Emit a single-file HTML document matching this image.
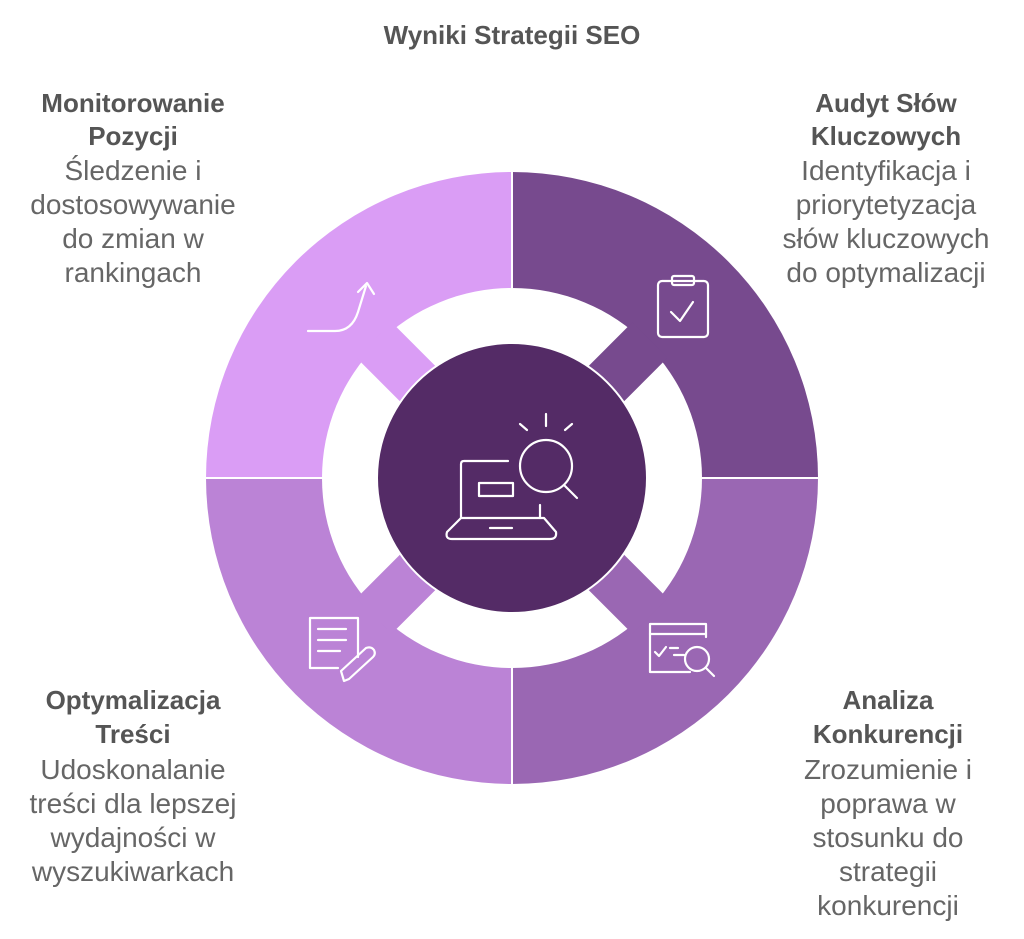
<!DOCTYPE html>
<html><head><meta charset="utf-8"><style>
html,body{margin:0;padding:0;background:#fff;width:1024px;height:939px;overflow:hidden}
svg{display:block}
text{font-family:"Liberation Sans",sans-serif;font-size:28px}
.b{font-weight:bold;fill:#555;font-size:26px}
.d{fill:#666}
</style></head><body>
<svg width="1024" height="939" viewBox="0 0 1024 939">
<text x="512" y="44" text-anchor="middle" class="b" style="font-size:26px">Wyniki Strategii SEO</text>
<g transform="translate(512,478)">
<path d="M0,0 L0,-306 A306,306 0 0 1 306,0 Z" fill="#774A8E"/>
<path d="M0,0 L306,0 A306,306 0 0 1 0,306 Z" fill="#9A67B3"/>
<path d="M0,0 L0,306 A306,306 0 0 1 -306,0 Z" fill="#BB83D6"/>
<path d="M0,0 L-306,0 A306,306 0 0 1 0,-306 Z" fill="#DA9DF5"/>
<circle r="190" fill="#fff"/>
<rect x="0" y="-25" width="195" height="50" fill="#774A8E" transform="rotate(-45)"/>
<rect x="0" y="-25" width="195" height="50" fill="#9A67B3" transform="rotate(45)"/>
<rect x="0" y="-25" width="195" height="50" fill="#BB83D6" transform="rotate(135)"/>
<rect x="0" y="-25" width="195" height="50" fill="#DA9DF5" transform="rotate(225)"/>
<line x1="-306" y1="0" x2="306" y2="0" stroke="#fff" stroke-width="2"/>
<line x1="0" y1="-306" x2="0" y2="306" stroke="#fff" stroke-width="2"/>
<circle r="135" fill="#542B66" stroke="#fff" stroke-width="2"/>
</g>
<g fill="none" stroke="#fff" stroke-width="2.2" stroke-linecap="round" stroke-linejoin="round">
<path d="M508,461 H464 Q461,461 461,464 V518"/>
<path d="M479,483 H513 V496 H479 Z"/>
<path d="M540,505 V518"/>
<path d="M461,518 H544 L556,532 Q557,539 550,539 H452 Q445,539 447,532 Z"/>
<line x1="490" y1="528" x2="512" y2="528"/>
<circle cx="546" cy="466" r="26"/>
<line x1="565" y1="486" x2="577" y2="498"/>
<line x1="546" y1="414" x2="546" y2="426"/>
<line x1="520" y1="424" x2="527" y2="430"/>
<line x1="572" y1="424" x2="565" y2="430"/>
<path d="M308,331 H335 Q352,331 358,312 L366,286"/>
<path d="M358,292 L367,283 L374,294"/>
<rect x="658" y="281" width="50" height="56" rx="4"/>
<rect x="672" y="276" width="22" height="9" rx="2"/>
<path d="M671,312 L680,321 L693,302"/>
<path d="M358,657 V618 H310 V668 H338"/>
<line x1="318" y1="629" x2="346" y2="629"/>
<line x1="318" y1="640" x2="346" y2="640"/>
<line x1="318" y1="651" x2="340" y2="651"/>
<path d="M344,681 L341,671 L366,648 Q371,646 374,650 Q376,654 373,657 L349,679 Z"/>
<path d="M706,637 V624 H650 V672 H690"/>
<line x1="650" y1="634" x2="706" y2="634"/>
<path d="M655,652 L659,656 L666,647"/>
<line x1="670" y1="648" x2="678" y2="648"/>
<line x1="674" y1="655" x2="684" y2="655"/>
<circle cx="697" cy="659" r="12"/>
<line x1="706" y1="668" x2="714" y2="676"/>
</g>
<g text-anchor="middle">
<text x="133" y="112" class="b">Monitorowanie</text>
<text x="133" y="145" class="b">Pozycji</text>
<text x="133" y="180" class="d">Śledzenie i</text>
<text x="133" y="214" class="d">dostosowywanie</text>
<text x="133" y="248" class="d">do zmian w</text>
<text x="133" y="282" class="d">rankingach</text>

<text x="886" y="112" class="b">Audyt Słów</text>
<text x="886" y="145" class="b">Kluczowych</text>
<text x="886" y="180" class="d">Identyfikacja i</text>
<text x="886" y="214" class="d">priorytetyzacja</text>
<text x="886" y="248" class="d">słów kluczowych</text>
<text x="886" y="282" class="d">do optymalizacji</text>

<text x="133" y="709" class="b">Optymalizacja</text>
<text x="133" y="743" class="b">Treści</text>
<text x="133" y="779" class="d">Udoskonalanie</text>
<text x="133" y="813" class="d">treści dla lepszej</text>
<text x="133" y="847" class="d">wydajności w</text>
<text x="133" y="881" class="d">wyszukiwarkach</text>

<text x="888" y="709" class="b">Analiza</text>
<text x="888" y="743" class="b">Konkurencji</text>
<text x="888" y="779" class="d">Zrozumienie i</text>
<text x="888" y="813" class="d">poprawa w</text>
<text x="888" y="847" class="d">stosunku do</text>
<text x="888" y="881" class="d">strategii</text>
<text x="888" y="915" class="d">konkurencji</text>
</g>
</svg>
</body></html>
